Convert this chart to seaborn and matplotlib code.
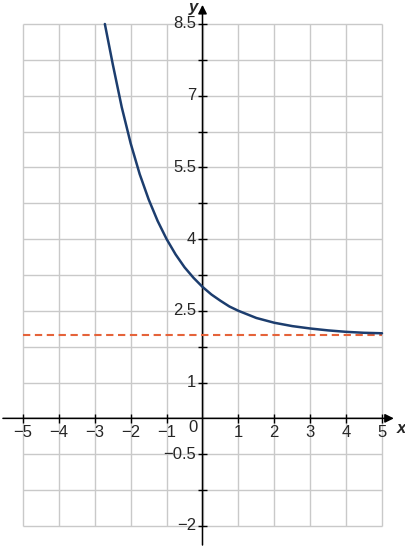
import matplotlib
matplotlib.use("Agg")
import matplotlib.pyplot as plt
import seaborn as sns
import numpy as np
import pandas as pd

# ---- data ----
curve_x = [-2.72, -2.5, -2.25, -2.0, -1.75, -1.5, -1.25, -1.0, -0.75, -0.5, -0.25,
           0.0, 0.25, 0.5, 0.75, 1.0, 1.5, 2.0, 2.5, 3.0, 3.5, 4.0, 4.5, 5.0]
curve_y = [8.5, 7.66, 6.76, 6.0, 5.36, 4.83, 4.38, 4.0, 3.68, 3.41, 3.19,
           3.0, 2.84, 2.71, 2.59, 2.5, 2.35, 2.25, 2.18, 2.13, 2.09, 2.06, 2.04, 2.03]
asymptote_y = 2.0
x_ticks = [-5, -4, -3, -2, -1, 1, 2, 3, 4, 5]
x_tick_labels = ["−5", "−4", "−3", "−2", "−1", "1", "2", "3", "4", "5"]
y_grid = [-2, -1.25, -0.5, 0.25, 1, 1.75, 2.5, 3.25, 4, 4.75, 5.5, 6.25, 7, 7.75, 8.5]
y_tick_vals = [-2, -0.5, 1, 2.5, 4, 5.5, 7, 8.5]
y_tick_labels = ["−2", "−0.5", "1", "2.5", "4", "5.5", "7", "8.5"]

sns.set_theme(style="white")
plt.rcParams["font.family"] = ["Liberation Sans", "DejaVu Sans"]

fig = plt.figure(figsize=(4.05, 5.5), dpi=100)
ax = fig.add_axes([0, 0, 1, 1])
ax.set_xlim(-5.641, 5.641)
ax.set_ylim(-2.504, 9.002)
ax.axis("off")

x0, x1 = -5, 5
y0, y1 = -2, 8.5
gcol = "#c9c9c9"
ax.vlines(range(-5, 6), y0, y1, color=gcol, lw=1.0, zorder=1)
ax.hlines(y_grid, x0, x1, color=gcol, lw=1.0, zorder=1)

axis_y = 0.25  # where the reference draws its horizontal axis
ax.annotate("", xy=(5.33, axis_y), xytext=(-5.56, axis_y),
            arrowprops=dict(arrowstyle="-|>", color="black", lw=1.1,
                            mutation_scale=13, shrinkA=0, shrinkB=0), zorder=3)
ax.annotate("", xy=(0, 8.9), xytext=(0, -2.40),
            arrowprops=dict(arrowstyle="-|>", color="black", lw=1.1,
                            mutation_scale=13, shrinkA=0, shrinkB=0), zorder=3)

fs = 12
tx = 0.1
ax.vlines(x_ticks, axis_y - tx, axis_y + tx, color="black", lw=1.0, zorder=3)
for v, lab in zip(x_ticks, x_tick_labels):
    ax.text(v, axis_y - 0.13, lab, ha="center", va="top", fontsize=fs)
ax.text(-0.14, axis_y - 0.03, "0", ha="right", va="top", fontsize=fs)
ty = 0.13
yt = [v for v in y_grid if abs(v - axis_y) > 1e-9]
ax.hlines(yt, -ty, ty, color="black", lw=1.0, zorder=3)
for v, lab in zip(y_tick_vals, y_tick_labels):
    ax.text(-0.18, v, lab, ha="right", va="center", fontsize=fs)

ax.text(5.4, axis_y - 0.05, "x", ha="left", va="top", fontsize=12,
        style="italic", fontweight="bold")
ax.text(-0.12, 9.0, "y", ha="right", va="top", fontsize=12,
        style="italic", fontweight="bold")

df_a = pd.DataFrame({"x": [x0, x1], "y": [asymptote_y, asymptote_y]})
sns.lineplot(data=df_a, x="x", y="y", ax=ax, color="#e5633a", lw=1.5,
             dashes=False, zorder=4, linestyle=(0, (3.5, 2.2)))

df_c = pd.DataFrame({"x": curve_x, "y": curve_y})
sns.lineplot(data=df_c, x="x", y="y", ax=ax, color="#1c3d6e", lw=1.8,
             zorder=5, sort=True)
ax.axis("off")

fig.savefig("out.png", dpi=100)
